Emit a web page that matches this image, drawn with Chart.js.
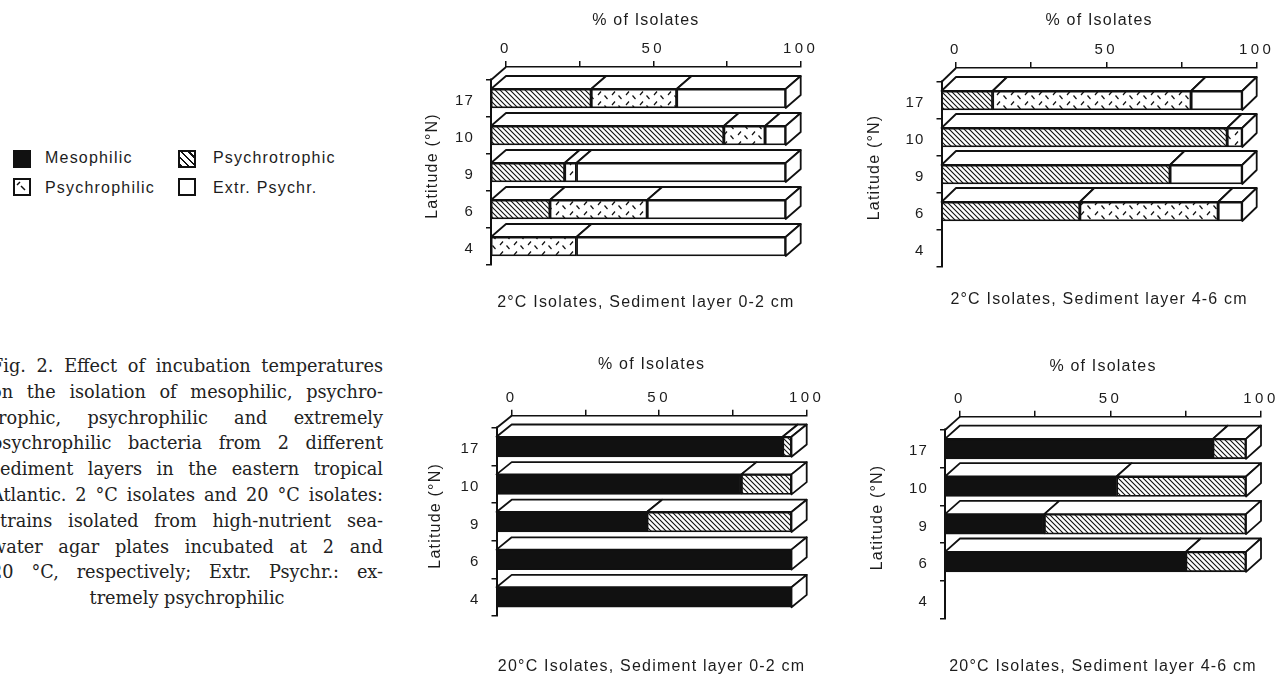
<!DOCTYPE html>
<html>
<head>
<meta charset="utf-8">
<script src="https://cdn.jsdelivr.net/npm/chart.js@4.4.1/dist/chart.umd.min.js"></script>
<style>
html,body{margin:0;padding:0;background:#fff;}
body{width:1278px;height:676px;position:relative;overflow:hidden;font-family:'Liberation Sans',Arial,sans-serif;color:#1c1c1c;}
canvas{position:absolute;display:block;}
.lg{position:absolute;font-size:16px;letter-spacing:1.2px;line-height:18px;white-space:nowrap;}
.sw{position:absolute;width:18px;height:18px;box-sizing:border-box;border:2px solid #111;background:#fff;}
.hatch{background:repeating-linear-gradient(45deg,#111 0 2px,#fff 2px 5px);}
#cap{position:absolute;left:-9px;top:354px;width:392px;font-family:'DejaVu Serif',serif;font-size:17.7px;line-height:25.8px;color:#222;}
#cap div{text-align:justify;text-align-last:justify;white-space:nowrap;}
#cap div.last{text-align:center;text-align-last:center;}
</style>
</head>
<body>
<div class="sw" style="left:13px;top:150px;background:#111"></div>
<div class="lg" style="left:45px;top:149px">Mesophilic</div>
<div class="sw hatch" style="left:178px;top:150px"></div>
<div class="lg" style="left:213px;top:149px">Psychrotrophic</div>
<div class="sw" style="left:13px;top:178px"><svg width="14" height="14" style="position:absolute;left:0;top:0"><path d="M2 5 L5 2 M6 6 L10 10" stroke="#111" stroke-width="1.5" fill="none"/></svg></div>
<div class="lg" style="left:45px;top:179px">Psychrophilic</div>
<div class="sw" style="left:178px;top:178px"></div>
<div class="lg" style="left:213px;top:179px">Extr. Psychr.</div>

<div id="cap">
<div>Fig. 2. Effect of incubation temperatures</div>
<div>on the isolation of mesophilic, psychro-</div>
<div>trophic, psychrophilic and extremely</div>
<div>psychrophilic bacteria from 2 different</div>
<div>sediment layers in the eastern tropical</div>
<div>Atlantic. 2 °C isolates and 20 °C isolates:</div>
<div>strains isolated from high-nutrient sea-</div>
<div>water agar plates incubated at 2 and</div>
<div>20 °C, respectively; Extr. Psychr.: ex-</div>
<div class="last">tremely psychrophilic</div>
</div>

<canvas id="p1"></canvas>
<canvas id="p2"></canvas>
<canvas id="p3"></canvas>
<canvas id="p4"></canvas>

<script>
// ---------- data ----------
const LATITUDES = ['17', '10', '9', '6', '4'];
const SERIES = ['Mesophilic', 'Psychrotrophic', 'Psychrophilic', 'Extr. Psychr.'];
const X_TICKS = [0, 25, 50, 75, 100];
const X_LABELS = [0, 50, 100];

// 2 °C isolates, sediment layer 0-2 cm
const c2_top_meso    = [0, 0, 0, 0, 0];
const c2_top_trophic = [34, 79, 25, 20, 0];
const c2_top_philic  = [29, 14, 4, 33, 29];
const c2_top_extr    = [37, 7, 71, 47, 71];
// 2 °C isolates, sediment layer 4-6 cm
const c2_deep_meso    = [0, 0, 0, 0, 0];
const c2_deep_trophic = [17, 95, 76, 46, 0];
const c2_deep_philic  = [66, 5, 0, 46, 0];
const c2_deep_extr    = [17, 0, 24, 8, 0];
// 20 °C isolates, sediment layer 0-2 cm
const c20_top_meso    = [97, 83, 51, 100, 100];
const c20_top_trophic = [3, 17, 49, 0, 0];
const c20_top_philic  = [0, 0, 0, 0, 0];
const c20_top_extr    = [0, 0, 0, 0, 0];
// 20 °C isolates, sediment layer 4-6 cm
const c20_deep_meso    = [89, 57, 33, 80, 0];
const c20_deep_trophic = [11, 43, 67, 20, 0];
const c20_deep_philic  = [0, 0, 0, 0, 0];
const c20_deep_extr    = [0, 0, 0, 0, 0];

// ---------- style ----------
const TXT = '#1c1c1c';
const LINE = '#111';
const LW = 1.8;
Chart.defaults.font.family = "'Liberation Sans', Arial, sans-serif";
Chart.defaults.font.size = 16;
Chart.defaults.color = TXT;

function hatchPattern(ctx) {
  const c = document.createElement('canvas'); c.width = 5; c.height = 5;
  const g = c.getContext('2d');
  g.fillStyle = '#fff'; g.fillRect(0, 0, 5, 5);
  g.strokeStyle = LINE; g.lineWidth = 1.1;
  g.beginPath();
  g.moveTo(-1, -1); g.lineTo(6, 6);
  g.moveTo(-1, 4); g.lineTo(1, 6);
  g.moveTo(4, -1); g.lineTo(6, 1);
  g.stroke();
  return ctx.createPattern(c, 'repeat');
}
function dashPattern(ctx) {
  const c = document.createElement('canvas'); c.width = 14; c.height = 10;
  const g = c.getContext('2d');
  g.fillStyle = '#fff'; g.fillRect(0, 0, 14, 10);
  g.strokeStyle = LINE; g.lineWidth = 1.2;
  g.beginPath();
  g.moveTo(2, 5); g.lineTo(5, 1.5);
  g.moveTo(8.5, 5.5); g.lineTo(11.5, 9);
  g.stroke();
  return ctx.createPattern(c, 'repeat');
}

// 3D faces + axis corner, drawn from the bar elements the library computed
const box3d = {
  id: 'box3d',
  beforeDraw(c) { c.ctx.letterSpacing = '1.2px'; },
  afterDatasetsDraw(c, args, opts) {
    const ctx = c.ctx, a = c.chartArea, x = c.scales.x, x2 = c.scales.x2, y = c.scales.y;
    const dx = x.getPixelForValue(opts.depth) - x.getPixelForValue(0);
    const topB = y.getPixelForValue(-0.5);
    const dy = topB - y.getPixelForValue(-0.5 - opts.ext);
    const x0 = x2.getPixelForValue(0);
    ctx.save();
    ctx.fillStyle = '#fff';
    ctx.fillRect(a.left - 3, a.top - 2, (x0 - 1) - (a.left - 3), (topB - 1.5) - (a.top - 2));
    ctx.strokeStyle = LINE; ctx.lineWidth = LW; ctx.lineJoin = 'round';
    ctx.beginPath(); ctx.moveTo(a.left, topB); ctx.lineTo(x0, a.top); ctx.stroke();
    const poly = (pts) => {
      ctx.beginPath(); ctx.moveTo(pts[0][0], pts[0][1]);
      for (let k = 1; k < pts.length; k++) ctx.lineTo(pts[k][0], pts[k][1]);
      ctx.closePath(); ctx.fillStyle = '#fff'; ctx.fill(); ctx.stroke();
    };
    LATITUDES.forEach((_, i) => {
      let last = null;
      c.data.datasets.forEach((ds, d) => {
        const el = c.getDatasetMeta(d).data[i];
        if (ds.data[i] == null || !el) return;
        const p = el.getProps(['x', 'y', 'base', 'height'], true);
        const t = p.y - p.height / 2;
        poly([[p.base, t], [p.x, t], [p.x + dx, t - dy], [p.base + dx, t - dy]]);
        last = p;
      });
      if (last) {
        const t = last.y - last.height / 2, b = last.y + last.height / 2;
        poly([[last.x, t], [last.x + dx, t - dy], [last.x + dx, b - dy], [last.x, b]]);
      }
    });
    ctx.restore();
    ctx.letterSpacing = '3.5px';
  },
  afterDraw(c) { c.ctx.letterSpacing = '0px'; }
};

function makePanel(id, box, geo, title, seriesArrays) {
  const cv = document.getElementById(id);
  cv.width = box.w; cv.height = box.h;
  cv.style.left = box.left + 'px'; cv.style.top = box.top + 'px';
  const ctx = cv.getContext('2d');
  const fills = ['#111', hatchPattern(ctx), dashPattern(ctx), '#fff'];
  const datasets = SERIES.map((name, i) => ({
    label: name,
    data: seriesArrays[i].map(v => (v > 0 ? v : null)),
    backgroundColor: fills[i],
    borderColor: LINE,
    borderWidth: LW,
    borderSkipped: false,
    barThickness: geo.bar,
    xAxisID: 'x', yAxisID: 'y'
  }));
  return new Chart(cv, {
    type: 'bar',
    data: { labels: LATITUDES, datasets },
    options: {
      indexAxis: 'y', responsive: false, animation: false, devicePixelRatio: 1,
      layout: { padding: { left: 0, top: 0, right: geo.padR, bottom: geo.padB } },
      plugins: {
        legend: { display: false }, tooltip: { enabled: false },
        title: { display: true, text: title, position: 'bottom', fullSize: false,
          padding: { top: geo.titleP, bottom: 0 }, font: { size: 16, weight: 'normal' }, color: TXT },
        box3d: { depth: geo.depth, ext: geo.ext }
      },
      scales: {
        x: { type: 'linear', display: false, stacked: true, min: 0, max: 100 + geo.depth },
        x2: {
          type: 'linear', position: 'top', min: -geo.depth, max: 100,
          grid: { drawOnChartArea: false, drawTicks: true, tickLength: 6, color: LINE, lineWidth: 1.5 },
          border: { display: true, color: LINE, width: 1.5 },
          ticks: { z: 1, padding: 3, color: TXT, font: { size: 15 }, autoSkip: false, maxRotation: 0,
            callback: (v) => (X_LABELS.includes(v) ? String(v) : '') },
          afterBuildTicks: (s) => { s.ticks = X_TICKS.map(v => ({ value: v })); },
          title: { display: true, text: '% of Isolates', color: TXT, font: { size: 16 },
            padding: { top: geo.xTitleP, bottom: 0 } },
          afterFit: (s) => { s.height = geo.x2H; }
        },
        y: {
          type: 'category', stacked: true, offset: true,
          grid: { offset: true, drawOnChartArea: false, drawTicks: true, tickLength: 5, color: LINE, lineWidth: 1.5 },
          border: { display: true, color: LINE, width: 2 },
          ticks: { color: TXT, font: { size: 15 }, padding: 12, labelOffset: 2.5 },
          title: { display: true, text: 'Latitude (°N)', color: TXT, font: { size: 16 },
            padding: { top: geo.yTitleP, bottom: 0 } },
          afterBuildTicks: (s) => { s._startValue -= geo.ext; s._valueRange += geo.ext; },
          afterFit: (s) => { s.width = geo.yW; }
        }
      }
    },
    plugins: [box3d]
  });
}

makePanel('p1', { left: 400, top: 0, w: 440, h: 320 },
  { yW: 91, yTitleP: 23.4, x2H: 67, xTitleP: 11.1, padR: 39.3, padB: 7.4, titleP: 28.4, depth: 5.09, ext: 0.351, bar: 19 },
  '2°C Isolates, Sediment layer 0-2 cm',
  [c2_top_meso, c2_top_trophic, c2_top_philic, c2_top_extr]);

makePanel('p2', { left: 855, top: 0, w: 423, h: 320 },
  { yW: 86.5, yTitleP: 10.4, x2H: 68, xTitleP: 11.4, padR: 21.3, padB: 10.4, titleP: 23.4, depth: 4.82, ext: 0.378, bar: 19 },
  '2°C Isolates, Sediment layer 4-6 cm',
  [c2_deep_meso, c2_deep_trophic, c2_deep_philic, c2_deep_extr]);

makePanel('p3', { left: 400, top: 335, w: 440, h: 341 },
  { yW: 96.5, yTitleP: 25.9, x2H: 80.7, xTitleP: 20.4, padR: 33.3, padB: 0, titleP: 40.8, depth: 5.15, ext: 0.327, bar: 20 },
  '20°C Isolates, Sediment layer 0-2 cm',
  [c20_top_meso, c20_top_trophic, c20_top_philic, c20_top_extr]);

makePanel('p4', { left: 855, top: 335, w: 423, h: 341 },
  { yW: 90, yTitleP: 13.4, x2H: 81.7, xTitleP: 22.1, padR: 17, padB: 0, titleP: 38.5, depth: 4.98, ext: 0.353, bar: 20 },
  '20°C Isolates, Sediment layer 4-6 cm',
  [c20_deep_meso, c20_deep_trophic, c20_deep_philic, c20_deep_extr]);
</script>
</body>
</html>
